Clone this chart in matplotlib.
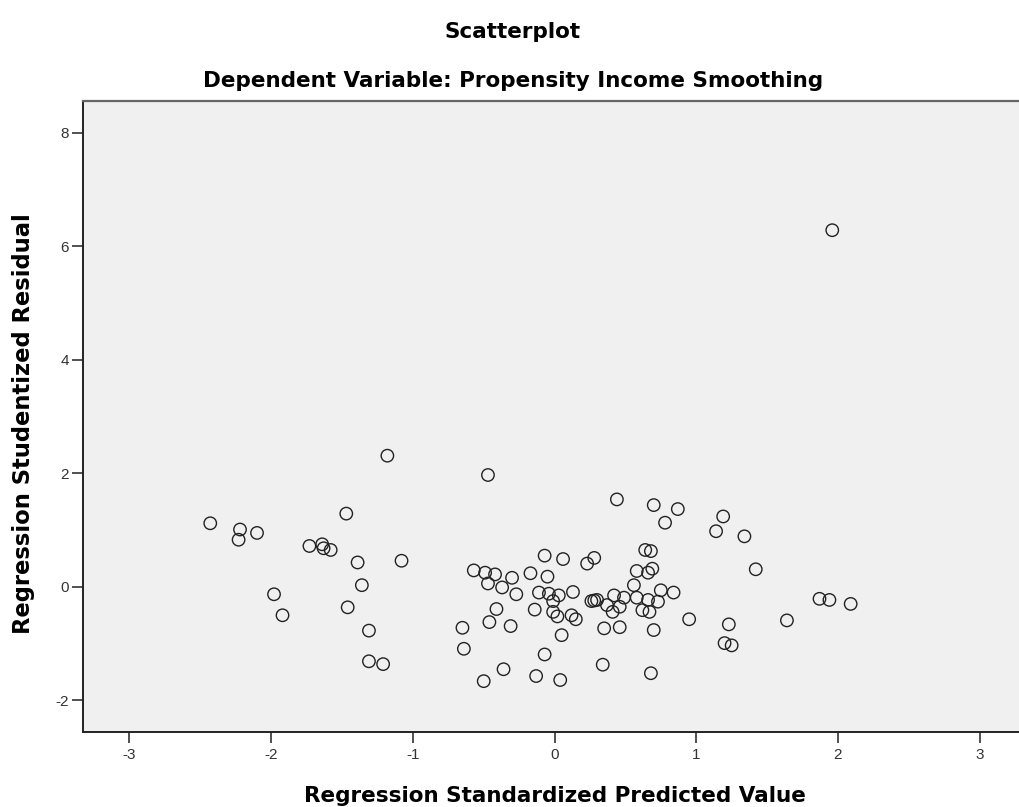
import matplotlib
matplotlib.use('Agg')
import matplotlib.pyplot as plt

plt.rcParams['font.family'] = ['Liberation Sans', 'DejaVu Sans']

# Standardized predicted values (x) and studentized residuals (y)
pred = [-2.43, -2.22, -2.23, -2.10, -1.73, -1.64, -1.63, -1.58, -1.47, -1.39,
        -1.36, -1.46, -1.98, -1.92, -1.31, -1.31, -1.21, -1.08, -1.18, -0.47,
        -0.57, -0.49, -0.42, -0.47, -0.37, -0.30, -0.17, -0.07, 0.06, -0.05,
        -0.27, -0.11, -0.04, 0.03, -0.01, 0.13, 0.23, 0.28, -0.41, -0.46,
        -0.31, -0.65, -0.64, -0.14, -0.01, 0.02, 0.12, 0.15, 0.05, -0.07,
        -0.36, -0.50, -0.13, 0.04, 0.34,
        0.26, 0.28, 0.30, 0.37, 0.42, 0.46, 0.41, 0.49, 0.35, 0.46,
        0.44, 0.58, 0.56, 0.58, 0.64, 0.68, 0.66, 0.69, 0.66, 0.73,
        0.75, 0.84, 0.62, 0.67, 0.70, 0.95, 0.68,
        0.70, 0.87, 0.78, 1.19, 1.14, 1.34, 1.42, 1.23, 1.20, 1.25,
        1.87, 1.94, 2.09, 1.64, 1.96]
resid = [1.12, 1.01, 0.83, 0.95, 0.72, 0.75, 0.68, 0.65, 1.29, 0.43,
         0.03, -0.36, -0.13, -0.50, -0.77, -1.31, -1.36, 0.46, 2.31, 1.97,
         0.29, 0.25, 0.22, 0.06, -0.01, 0.16, 0.24, 0.55, 0.49, 0.18,
         -0.13, -0.10, -0.12, -0.15, -0.25, -0.09, 0.41, 0.51, -0.39, -0.62,
         -0.69, -0.72, -1.09, -0.40, -0.44, -0.52, -0.50, -0.57, -0.85, -1.19,
         -1.45, -1.66, -1.57, -1.64, -1.37,
         -0.25, -0.24, -0.23, -0.32, -0.15, -0.35, -0.44, -0.19, -0.73, -0.71,
         1.54, 0.28, 0.03, -0.19, 0.65, 0.63, 0.25, 0.32, -0.23, -0.26,
         -0.06, -0.10, -0.41, -0.44, -0.76, -0.57, -1.52,
         1.44, 1.37, 1.13, 1.24, 0.98, 0.89, 0.31, -0.66, -0.99, -1.03,
         -0.21, -0.23, -0.30, -0.59, 6.28]

xticks = [-3, -2, -1, 0, 1, 2, 3]
yticks = [-2, 0, 2, 4, 6, 8]

W, H = 1019, 807
fig = plt.figure(figsize=(W / 100, H / 100), dpi=100)
ax = fig.add_axes([0.0812, 0.0933, 0.9188, 0.7819])
ax.set_facecolor('#f0f0f0')

ax.scatter(pred, resid, s=80, facecolors='none', edgecolors='#222222', linewidths=1.0)

ax.set_xlim(-3.33, 3.278)
ax.set_ylim(-2.55, 8.56)
ax.set_xticks(xticks)
ax.set_yticks(yticks)
ax.set_xticklabels([str(t) for t in xticks])
ax.set_yticklabels([str(t) for t in yticks])
ax.tick_params(direction='out', length=8, width=1.2, color='#333333',
               labelsize=11, labelcolor='#333333')
ax.tick_params(axis='x', pad=4)
ax.tick_params(axis='y', pad=2)

for side in ['left', 'bottom']:
    ax.spines[side].set_color('#222222')
    ax.spines[side].set_linewidth(1.4)
ax.spines['top'].set_color('#666666')
ax.spines['top'].set_linewidth(1.6)
ax.spines['right'].set_visible(False)

bold = dict(family='DejaVu Sans', fontweight='bold', fontsize=15.5)

# axis labels placed in figure pixels
fig.text(555 / W, 1 - 802 / H, 'Regression Standardized Predicted Value',
         ha='center', va='baseline', **bold)
fig.text(24 / W, 1 - 424 / H, 'Regression Studentized Residual',
         ha='center', va='center', rotation=90,
         family='DejaVu Sans', fontweight='bold', fontsize=16.3)

fig.text(513 / W, 1 - 38 / H, 'Scatterplot', ha='center', va='baseline', **bold)
fig.text(513 / W, 1 - 87 / H, 'Dependent Variable: Propensity Income Smoothing',
         ha='center', va='baseline', **bold)

fig.savefig('out.png', dpi=100)
